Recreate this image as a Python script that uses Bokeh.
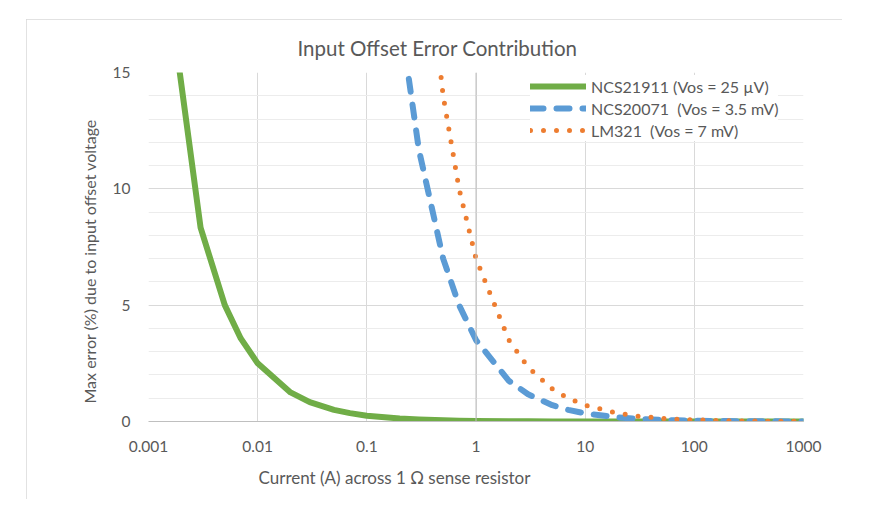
from bokeh.plotting import figure
from bokeh.models import (Range1d, FixedTicker, CustomJSTickFormatter, Legend, LegendItem,
                          Title, Span)
from bokeh.embed import file_html
from bokeh.resources import INLINE

# Data
current = [0.001, 0.003, 0.005, 0.007, 0.01, 0.02, 0.03, 0.05, 0.07, 0.1, 0.2, 0.3, 0.5, 0.7,
           1, 2, 3, 5, 7, 10, 20, 30, 50, 70, 100, 200, 300, 500, 700, 1000]
ncs21911 = [25, 8.33, 5.0, 3.57, 2.5, 1.25, 0.83, 0.5, 0.36, 0.25, 0.125, 0.083, 0.05, 0.036,
            0.025, 0.0125, 0.0083, 0.005, 0.0036, 0.0025, 0.0013, 0.0008, 0.0005, 0.0004,
            0.0003, 0.0001, 0.0001, 0.0001, 0.0, 0.0]
ncs20071 = [3500, 1167, 700, 500, 350, 175, 116.7, 70, 50, 35, 17.5, 11.67, 7.0, 5.0,
            3.5, 1.75, 1.17, 0.7, 0.5, 0.35, 0.175, 0.117, 0.07, 0.05, 0.035, 0.018, 0.012,
            0.007, 0.005, 0.0035]
lm321 = [7000, 2333, 1400, 1000, 700, 350, 233.3, 140, 100, 70, 35, 23.33, 14.0, 10.0,
         7.0, 3.5, 2.33, 1.4, 1.0, 0.7, 0.35, 0.233, 0.14, 0.1, 0.07, 0.035, 0.023,
         0.014, 0.01, 0.007]
series_names = ["NCS21911 (Vos = 25 \u00b5V)", "NCS20071  (Vos = 3.5 mV)", "LM321  (Vos = 7 mV)"]
x_ticks = [0.001, 0.01, 0.1, 1, 10, 100, 1000]
y_ticks = [0, 5, 10, 15]
title_text = "Input Offset Error Contribution"
x_title = "Current (A) across 1 \u03a9 sense resistor"
y_title = "Max error (%) due to input offset voltage"

FONT = "Lato"
TXT = "#595959"
# chart area box (with light border) placed at (26, 19) on the page
W, H = 816, 480

p = figure(width=W, height=H, x_axis_type="log", output_backend="svg", toolbar_location=None,
           x_range=Range1d(0.001, 1000), y_range=Range1d(0, 15),
           min_border_left=122, min_border_right=39, min_border_top=53, min_border_bottom=78,
           margin=(19, 0, 0, 26))
p.styles = {"outline": "1px solid #d9d9d9", "outline-offset": "-1px"}
p.outline_line_color = None
p.background_fill_color = "white"
p.border_fill_color = "white"

# chart title
p.title.text = title_text
p.title.align = "left"
p.title.offset = 149
p.title.standoff = 26
p.title.text_font = FONT
p.title.text_font_size = "20.5px"
p.title.text_font_style = "normal"
p.title.text_color = TXT

# axes
p.xaxis.ticker = FixedTicker(ticks=x_ticks)
p.xaxis.formatter = CustomJSTickFormatter(code="return String(tick);")
p.yaxis.ticker = FixedTicker(ticks=y_ticks, minor_ticks=list(range(0, 16)))
for ax in (p.xaxis[0], p.yaxis[0]):
    ax.major_tick_line_color = None
    ax.minor_tick_line_color = None
    ax.major_label_text_font = FONT
    ax.major_label_text_font_size = "15.5px"
    ax.major_label_text_color = TXT
p.xaxis.axis_line_color = "#bfbfbf"
p.yaxis.axis_line_color = None
p.xaxis.major_label_standoff = 13
p.yaxis.major_label_standoff = 12

# axis titles (offset like the original)
p.add_layout(Title(text=x_title, align="left", offset=110, standoff=21, text_font=FONT,
                   text_font_size="17px", text_font_style="normal", text_color=TXT), "below")
p.add_layout(Title(text=y_title, align="left", vertical_align="top", offset=18, standoff=18,
                   text_font=FONT, text_font_size="16px", text_font_style="normal",
                   text_color=TXT), "left")

p.xgrid.grid_line_color = "#d9d9d9"
p.ygrid.grid_line_color = "#d9d9d9"
p.ygrid.minor_grid_line_color = "#ececec"

# value axis crossing at 1
p.add_layout(Span(location=1, dimension="height", line_color="#bfbfbf", line_width=1))

r1 = p.line(current, ncs21911, line_color="#70ad47", line_width=6, line_cap="round", line_join="round")
r2 = p.line(current, ncs20071, line_color="#5b9bd5", line_width=6, line_cap="round", line_join="round",
            line_dash="13 13")
r3 = p.line(current, lm321, line_color="#ed7d31", line_width=5, line_cap="round", line_join="round",
            line_dash="0 13")

legend = Legend(items=[LegendItem(label=series_names[0], renderers=[r1]),
                       LegendItem(label=series_names[1], renderers=[r2]),
                       LegendItem(label=series_names[2], renderers=[r3])],
                location=(382, 280), orientation="vertical",
                glyph_width=56, glyph_height=22, label_height=22, label_standoff=5, spacing=0,
                padding=12, margin=0, border_line_color=None, background_fill_color="white",
                background_fill_alpha=1.0,
                label_text_font=FONT, label_text_font_size="16px", label_text_color=TXT)
p.add_layout(legend)

open("out.html", "w").write(file_html(p, INLINE))
